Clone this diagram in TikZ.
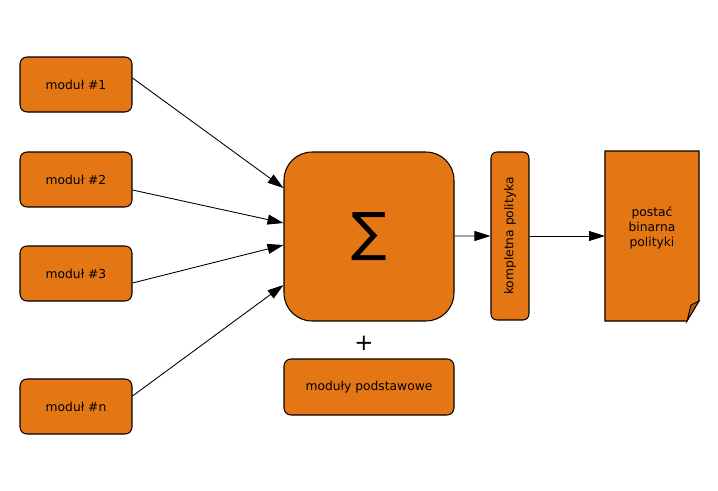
\documentclass[tikz,border=0pt]{standalone}
\usepackage{fontspec}
\setmainfont{DejaVu Sans}
\usetikzlibrary{arrows.meta}
\usetikzlibrary{backgrounds}
\definecolor{polorange}{RGB}{229,118,20}
\tikzset{modbox/.style = {draw, fill=polorange, line width=0.6pt,
                          rounded corners=0.14cm, minimum width=2.24cm,
                          minimum height=1.1cm, inner sep=0pt,
                          font=\fontsize{7}{8.5}\selectfont},
         flow/.style = {-{Triangle[length=0.32cm, width=0.2cm]}, line width=0.5pt}}

\begin{document}
\begin{tikzpicture}[x=0.02cm, y=-0.02cm]
    \useasboundingbox (0, 0) rectangle (718, 491);
    % modules
    \node [modbox] (mod1) at (76, 84.5) {moduł \#1};
    \node [modbox] (mod2) at (76, 179.5) {moduł \#2};
    \node [modbox] (mod3) at (76, 273.5) {moduł \#3};
    \node [modbox] (modn) at (76, 406.5) {moduł \#n};
    % sum and base modules
    \node [modbox, rounded corners=0.56cm, minimum width=3.4cm,
           minimum height=3.38cm, font=\fontsize{30}{30}\selectfont] (sum) at (369, 236.5) {∑};
    \node [font=\fontsize{13}{13}\selectfont] (plus) at (364, 343) {+};
    \node [modbox, minimum width=3.4cm, minimum height=1.12cm] (base) at (369, 387) {moduły podstawowe};
    % complete policy
    \node [modbox, rounded corners=0.12cm, minimum width=0.76cm,
           minimum height=3.36cm] (policy) at (510, 236) {};
    \node [rotate=90, font=\fontsize{7}{8.5}\selectfont] (policytext) at (policy) {kompletna polityka};
    % binary form (document)
    \coordinate (docnw) at (605, 151);
    \coordinate (docse) at (699, 321);
    \draw [fill=polorange, line width=0.6pt] (605, 151) -- (699, 151) -- (699, 301)
        -- (687, 321) -- (605, 321) -- cycle;
    \draw [fill=polorange!80!black, line width=0.5pt] (699, 301) -- (691, 305) -- (687, 321) -- cycle;
    \node [align=center, font=\fontsize{7}{8.5}\selectfont] (doc) at (652, 228) {postać\\binarna\\polityki};
    \coordinate (docin) at (605, 236);
    % connectors
    \draw [flow] ([yshift=0.13cm]mod1.east) -- ([yshift=0.97cm]sum.west);
    \draw [flow] ([yshift=-0.21cm]mod2.east) -- ([yshift=0.27cm]sum.west);
    \draw [flow] ([yshift=-0.19cm]mod3.east) -- ([yshift=-0.17cm]sum.west);
    \draw [flow] ([yshift=0.21cm]modn.east) -- ([yshift=-0.97cm]sum.west);
    \draw [flow] ([yshift=0.01cm]sum.east) -- (policy.west);
    \draw [flow] (policy.east) -- (docin);
\end{tikzpicture}
\end{document}
